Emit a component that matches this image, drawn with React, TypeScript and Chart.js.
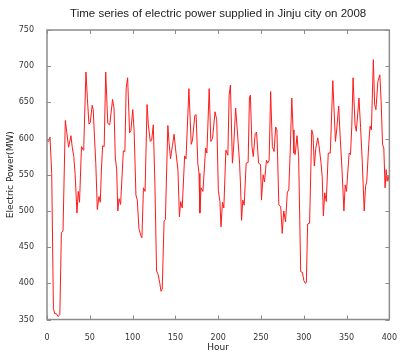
import React, { useEffect, useRef } from "react";
import { Chart, registerables } from "chart.js";

Chart.register(...registerables);

const TITLE = "Time series of electric power supplied in Jinju city on 2008";
const X_LABEL = "Hour";
const Y_LABEL = "Electric Power(MW)";

const X_MIN = 0;
const X_MAX = 400;
const X_STEP = 50;
const Y_MIN = 350;
const Y_MAX = 750;
const Y_STEP = 50;

// Hour of each read point
const hours = [
  0, 2, 3.5, 5.5, 7.5, 9, 11, 13, 15, 16.8, 18.7, 21.4, 23, 25.2, 28, 29.5, 31.3, 32.9, 35, 36.5,
  38, 40.3, 42.5, 43, 45.5, 47.2, 49, 50.5, 52.8, 54, 55.5, 57, 58.8, 60.7, 62.3, 63.5, 65, 66.8, 68.6, 71,
  73.3, 76.6, 78.3, 79.8, 81.4, 82.7, 84.2, 86, 89.2, 91, 92.5, 94.2, 96.5, 98, 100.2, 101.8, 103.9, 105.5, 107.4, 109.3,
  110.9, 112.7, 114.6, 116.9, 118.4, 120.7, 122.3, 124.2, 126.1, 128, 129.9, 131.8, 133.2, 134.6, 136.8, 138.3, 141.2, 142.5, 144.3, 146.5,
  148.5, 150, 153, 154.7, 156.2, 158, 160.8, 162.4, 165.8, 168.5, 170, 172.7, 174.2, 176.2, 177.6, 178.6, 180, 182.2, 185.3, 186.8,
  189.5, 191.4, 193.4, 196.3, 198.3, 200.2, 202, 203.3, 205, 206.6, 209, 211.3, 212.8, 214.3, 216.6, 218, 220.4, 222.3, 225, 226.2,
  227.3, 228.8, 230.4, 232.7, 235, 236.5, 237.6, 239.5, 241, 243.3, 244.8, 247.2, 249.5, 250.6, 252.5, 254.1, 256.4, 257.9, 259.5, 261.3,
  263.3, 265.3, 267.2, 268.6, 270.9, 273.1, 274.8, 276.6, 278.7, 280.8, 282.5, 284.2, 286, 287.5, 288.5, 290, 292.1, 294, 295.3, 296.4,
  298.5, 300, 301.8, 303, 304.5, 306.8, 309.3, 310.8, 312.3, 314, 316.3, 317.8, 320.1, 321.5, 322.9, 324.5, 326.3, 328.6, 331, 333.9,
  335.3, 337, 338.5, 340.8, 342.4, 344.6, 346.9, 348.4, 349.9, 353, 354.6, 356.1, 357.6, 359.9, 361.4, 364.5, 366.4, 368.3, 370.6, 372.2,
  373.6, 375.9, 377.4, 379, 381.3, 382.8, 384.3, 386.6, 388.9, 390.4, 392, 393.5, 395, 396.2, 397.3, 398.5, 400,
];

// Electric power (MW) at each hour above
const power = [
  597, 596, 602, 552, 365, 358, 358, 354, 357, 470, 472, 625, 610, 588, 604, 588, 575, 550, 497, 527,
  512, 589, 584, 590, 692, 655, 620, 622, 646, 640, 601, 566, 502, 520, 512, 555, 590, 589, 692, 621,
  619, 654, 642, 573, 558, 500, 517, 509, 583, 582, 670, 684, 608, 611, 640, 611, 522, 515, 476, 467,
  463, 532, 527, 647, 619, 596, 598, 619, 536, 417, 412, 400, 389, 392, 486, 488, 618, 596, 572, 590,
  606, 588, 556, 492, 513, 504, 576, 572, 669, 592, 598, 632, 633, 566, 552, 497, 532, 527, 587, 580,
  669, 596, 600, 637, 626, 528, 513, 478, 512, 504, 584, 577, 660, 674, 566, 587, 642, 612, 566, 533,
  487, 515, 508, 566, 567, 656, 660, 589, 575, 607, 609, 566, 564, 515, 550, 540, 570, 566, 570, 665,
  589, 582, 616, 612, 508, 506, 469, 500, 485, 526, 529, 584, 656, 612, 580, 578, 604, 575, 488, 416,
  415, 404, 400, 401, 482, 483, 612, 605, 562, 586, 601, 590, 567, 548, 493, 525, 513, 580, 580, 680,
  642, 596, 613, 645, 605, 559, 500, 536, 527, 580, 578, 617, 684, 619, 610, 656, 615, 569, 500, 534,
  541, 592, 617, 612, 709, 647, 640, 679, 688, 651, 592, 587, 532, 557, 541, 548, 540,
];

const W = 403;
const H = 354;
const FRAME = "#8c8c8c";
const TEXT = "#333333";

const boxPlugin = {
  id: "gnuBox",
  afterDatasetsDraw(chart: any) {
    const { ctx, chartArea } = chart;
    const { left, right, top, bottom } = chartArea;
    const xs = chart.scales.x;
    const ys = chart.scales.y;
    const len = 4;
    ctx.save();
    ctx.strokeStyle = FRAME;
    ctx.lineWidth = 1;
    ctx.beginPath();
    xs.ticks.forEach((t: any) => {
      const px = Math.round(xs.getPixelForValue(t.value)) + 0.5;
      ctx.moveTo(px, bottom);
      ctx.lineTo(px, bottom - len);
      ctx.moveTo(px, top);
      ctx.lineTo(px, top + len);
    });
    ys.ticks.forEach((t: any) => {
      const py = Math.round(ys.getPixelForValue(t.value)) + 0.5;
      ctx.moveTo(left, py);
      ctx.lineTo(left + len, py);
      ctx.moveTo(right, py);
      ctx.lineTo(right - len, py);
    });
    ctx.stroke();
    ctx.lineWidth = 1.5;
    ctx.strokeRect(left, top, right - left, bottom - top);
    // title centred over the plot area
    ctx.fillStyle = "#222222";
    ctx.font = "11.5px 'Liberation Sans'";
    ctx.textAlign = "center";
    ctx.textBaseline = "middle";
    ctx.fillText(TITLE, (left + right) / 2, 14);
    ctx.restore();
  },
};

export default function App() {
  const ref = useRef<HTMLCanvasElement | null>(null);

  useEffect(() => {
    if (!ref.current) return;
    const data = hours.map((h, i) => ({ x: h, y: power[i] }));
    const chart = new Chart(ref.current, {
      type: "line",
      data: {
        datasets: [
          {
            data,
            borderColor: "#ff1a1a",
            borderWidth: 1,
            pointRadius: 0,
            tension: 0,
            fill: false,
          },
        ],
      },
      options: {
        animation: false,
        responsive: false,
        devicePixelRatio: 1,
        layout: { padding: { left: 0, right: 7, top: 30, bottom: 0 } },
        plugins: {
          legend: { display: false },
          tooltip: { enabled: false },
          title: { display: false },
        },
        scales: {
          x: {
            type: "linear",
            min: X_MIN,
            max: X_MAX,
            grid: { display: false },
            border: { display: false },
            ticks: {
              stepSize: X_STEP,
              color: TEXT,
              padding: 6,
              maxRotation: 0,
              font: { family: "DejaVu Sans", size: 8 },
            },
            title: {
              display: true,
              text: X_LABEL,
              color: "#222222",
              font: { family: "DejaVu Sans", size: 9 },
              padding: { top: 0, bottom: 1 },
            },
            afterFit: (s: any) => {
              s.height = 34.5;
            },
          },
          y: {
            type: "linear",
            min: Y_MIN,
            max: Y_MAX,
            grid: { display: false },
            border: { display: false },
            ticks: {
              stepSize: Y_STEP,
              color: TEXT,
              padding: 5,
              font: { family: "DejaVu Sans", size: 8 },
            },
            title: {
              display: true,
              text: Y_LABEL,
              color: "#222222",
              font: { family: "DejaVu Sans", size: 9 },
              padding: { top: 5, bottom: 0 },
            },
            afterFit: (s: any) => {
              s.width = 47;
            },
          },
        },
      },
      plugins: [boxPlugin],
    });
    return () => chart.destroy();
  }, []);

  return (
    <div style={{ position: "fixed", left: 0, top: 0, width: W, height: H, background: "#ffffff" }}>
      <canvas ref={ref} width={W} height={H} style={{ width: W, height: H, display: "block" }} />
    </div>
  );
}
